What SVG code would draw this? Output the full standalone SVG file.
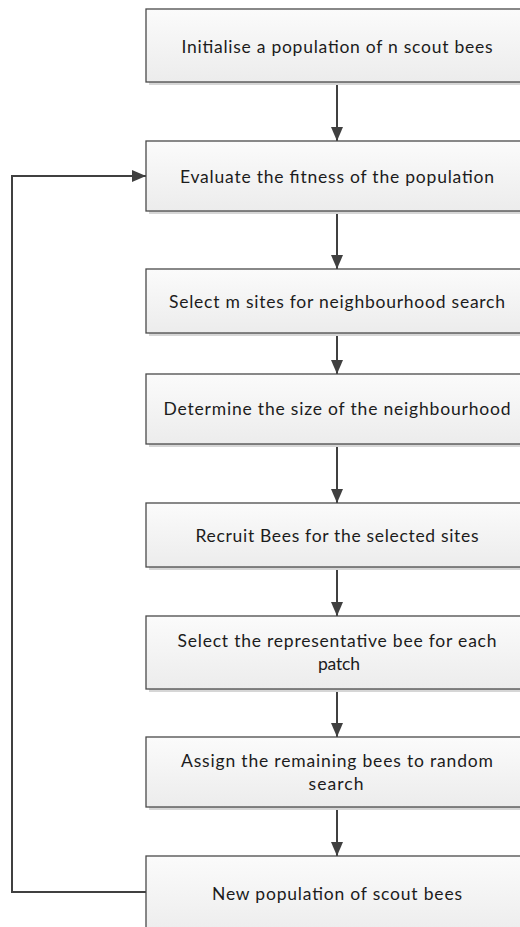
<svg xmlns="http://www.w3.org/2000/svg" width="520" height="927" viewBox="0 0 520 927">
  <style>
    .box { fill: url(#boxFill); stroke: #4a4a4a; stroke-width: 1.3; }
    .shadow { fill: #d6d6d6; }
    .label { font-family: Lato, "Open Sans", "Liberation Sans", sans-serif; font-size: 17.5px; fill: #1c1c1c; text-anchor: middle; }
    .edge { fill: none; stroke: #404040; stroke-width: 2; }
  </style>
  <defs>
    <linearGradient id="boxFill" x1="0" y1="0" x2="0" y2="1">
      <stop offset="0" stop-color="#fbfbfb"/>
      <stop offset="1" stop-color="#ececec"/>
    </linearGradient>
    <marker id="arrow" markerUnits="userSpaceOnUse" markerWidth="15" markerHeight="13" refX="14" refY="6.5" orient="auto">
      <path d="M0,0.5 L14,6.5 L0,12.5 Z" fill="#404040"/>
    </marker>
  </defs>

  <g id="connectors">
    <line class="edge" x1="337" y1="82" x2="337" y2="141" marker-end="url(#arrow)"/>
    <line class="edge" x1="337" y1="211" x2="337" y2="269" marker-end="url(#arrow)"/>
    <line class="edge" x1="337" y1="333" x2="337" y2="374" marker-end="url(#arrow)"/>
    <line class="edge" x1="337" y1="444" x2="337" y2="503" marker-end="url(#arrow)"/>
    <line class="edge" x1="337" y1="567" x2="337" y2="616" marker-end="url(#arrow)"/>
    <line class="edge" x1="337" y1="689" x2="337" y2="737" marker-end="url(#arrow)"/>
    <line class="edge" x1="337" y1="807" x2="337" y2="856" marker-end="url(#arrow)"/>
    <!-- feedback loop from the new population back to evaluation -->
    <polyline class="edge" points="146,892 12,892 12,176 146,176" marker-end="url(#arrow)"/>
  </g>

  <g id="init">
    <rect class="shadow" x="149" y="12" width="382" height="73"/>
    <rect class="box" x="146" y="9" width="382" height="73"/>
    <text class="label" x="337" y="53" textLength="311">Initialise a population of n scout bees</text>
  </g>

  <g id="evaluate">
    <rect class="shadow" x="149" y="144" width="382" height="70"/>
    <rect class="box" x="146" y="141" width="382" height="70"/>
    <text class="label" x="337" y="183" textLength="314">Evaluate the fitness of the population</text>
  </g>

  <g id="select-sites">
    <rect class="shadow" x="149" y="272" width="382" height="64"/>
    <rect class="box" x="146" y="269" width="382" height="64"/>
    <text class="label" x="337" y="308" textLength="336">Select m sites for neighbourhood search</text>
  </g>

  <g id="neighbourhood-size">
    <rect class="shadow" x="149" y="377" width="382" height="70"/>
    <rect class="box" x="146" y="374" width="382" height="70"/>
    <text class="label" x="337" y="415" textLength="347">Determine the size of the neighbourhood</text>
  </g>

  <g id="recruit">
    <rect class="shadow" x="149" y="506" width="382" height="64"/>
    <rect class="box" x="146" y="503" width="382" height="64"/>
    <text class="label" x="337" y="542" textLength="283">Recruit Bees for the selected sites</text>
  </g>

  <g id="representative">
    <rect class="shadow" x="149" y="619" width="382" height="73"/>
    <rect class="box" x="146" y="616" width="382" height="73"/>
    <text class="label" x="337" y="647" textLength="319">Select the representative bee for each</text>
    <text class="label" x="339" y="670" textLength="42">patch</text>
  </g>

  <g id="random-search">
    <rect class="shadow" x="149" y="740" width="382" height="70"/>
    <rect class="box" x="146" y="737" width="382" height="70"/>
    <text class="label" x="337" y="767" textLength="312">Assign the remaining bees to random</text>
    <text class="label" x="336" y="790" textLength="55">search</text>
  </g>

  <g id="new-population">
    <rect class="shadow" x="149" y="859" width="382" height="80"/>
    <rect class="box" x="146" y="856" width="382" height="80"/>
    <text class="label" x="337" y="900" textLength="250">New population of scout bees</text>
  </g>
</svg>
